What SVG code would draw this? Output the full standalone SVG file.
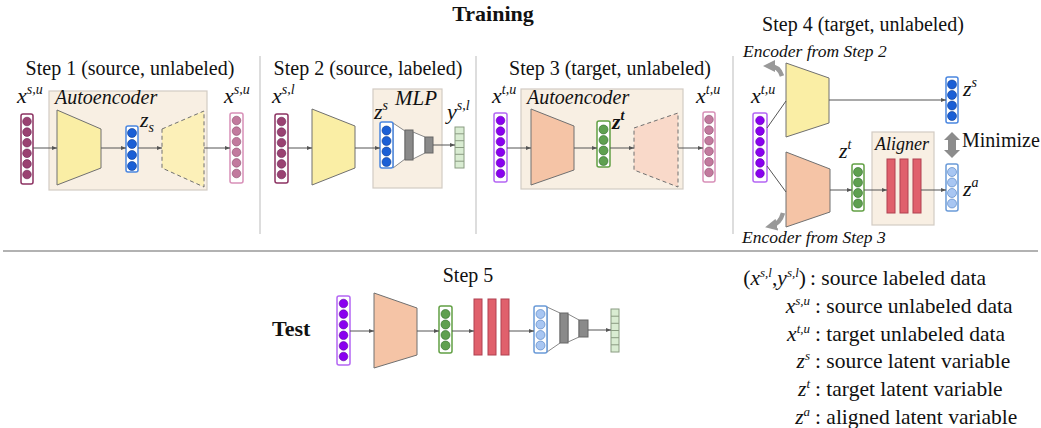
<svg xmlns="http://www.w3.org/2000/svg" width="1041" height="428" viewBox="0 0 1041 428">
<defs>
<marker id="ah" viewBox="0 0 10 10" refX="10" refY="5" markerWidth="5" markerHeight="5" orient="auto" markerUnits="userSpaceOnUse"><path d="M0,1 L10,5 L0,9 z" fill="#555"/></marker>
<marker id="big" viewBox="0 0 10 10" refX="5" refY="5" markerWidth="12" markerHeight="12" orient="auto" markerUnits="userSpaceOnUse"><path d="M0,0 L10,5 L0,10 z" fill="#999"/></marker>
</defs>
<style>
.t{font-family:"Liberation Serif","Times New Roman",serif;fill:#111}
.title{font-size:20px}
.it{font-style:italic}
.m{font-family:"Liberation Serif","Times New Roman",serif;font-style:italic;font-size:22px;fill:#111}
.sup{font-size:14px}
.box{fill:#f8efe3;stroke:#d2cbc3;stroke-width:1.2}
.sep{stroke:#bbb;stroke-width:1}
.enc-y{fill:#faeea5;stroke:#707070;stroke-width:1}
.dec-y{fill:#fcf0b8;stroke:#707070;stroke-width:1;stroke-dasharray:4 3}
.enc-p{fill:#f5c4a6;stroke:#707070;stroke-width:1}
.dec-p{fill:#f9d9c9;stroke:#707070;stroke-width:1;stroke-dasharray:4 3}
.col{fill:#fff;stroke-width:1.5}
.c-mar rect{stroke:#8c3262}.c-mar circle{fill:#9a4272;stroke:#6a2050;stroke-width:.6}
.c-pink rect{stroke:#d890b8}.c-pink circle{fill:#c27a9e;stroke:#8a4a6a;stroke-width:.6}
.c-blue rect{stroke:#4a86e0}.c-blue circle{fill:#1a5fd6;stroke:#0a3a90;stroke-width:.6}
.c-pur rect{stroke:#b466f4}.c-pur circle{fill:#8a00f0;stroke:#5a00a0;stroke-width:.6}
.c-grn rect{stroke:#62a044}.c-grn circle{fill:#5fa050;stroke:#2f6a28;stroke-width:.6}
.c-lb rect{stroke:#6a9ad8}.c-lb circle{fill:#a8c6f2;stroke:#4a7cc0;stroke-width:.6}
.bar{fill:#e0606c;stroke:#b04050;stroke-width:1}
.gb{fill:#8a8a8a;stroke:#666;stroke-width:1}
.fun{fill:#fff;stroke:#888;stroke-width:1}
.ycol rect{fill:#d9ecd2;stroke:#8a9c82;stroke-width:1}
.ycol line{stroke:#8a9c82;stroke-width:1}
.ar{stroke:#555;stroke-width:1;fill:none;marker-end:url(#ah)}
.ln{stroke:#555;stroke-width:1;fill:none}
.lg{font-size:21.5px}
</style>
<rect width="1041" height="428" fill="#fff"/>

<text class="t" x="493" y="21" text-anchor="middle" font-size="22" font-weight="bold">Training</text>
<text class="t" x="272" y="336" font-size="22" font-weight="bold">Test</text>

<line class="sep" x1="260" y1="56" x2="260" y2="234"/>
<line class="sep" x1="476" y1="56" x2="476" y2="234"/>
<line class="sep" x1="733" y1="56" x2="733" y2="234"/>
<line x1="3" y1="251" x2="1038" y2="251" stroke="#999" stroke-width="1.5"/>

<!-- Step 1 -->
<g id="step1">
<text class="t title" x="130" y="75" text-anchor="middle">Step 1 (source, unlabeled)</text>
<rect class="box" x="49" y="91" width="158" height="99"/>
<text class="t it" x="55" y="104" font-size="20">Autoencoder</text>
</g>
<g id="s1-input" class="c-mar">
<text class="m" x="17" y="103">x<tspan class="sup" dy="-9">s,u</tspan></text>
<rect class="col" x="21" y="114" width="12" height="70" rx="2"/>
<circle cx="27" cy="121.5" r="4.3"/><circle cx="27" cy="132.1" r="4.3"/><circle cx="27" cy="142.7" r="4.3"/><circle cx="27" cy="153.3" r="4.3"/><circle cx="27" cy="163.9" r="4.3"/><circle cx="27" cy="174.5" r="4.3"/>
</g>
<g id="s1-encoder"><path class="enc-y" d="M57,110 L101,129 L101,168 L57,185 Z"/></g>
<g id="s1-z" class="c-blue">
<rect class="col" x="126" y="126" width="12" height="46" rx="2"/>
<circle cx="132" cy="133" r="4.5"/><circle cx="132" cy="144" r="4.5"/><circle cx="132" cy="155" r="4.5"/><circle cx="132" cy="166" r="4.5"/>
<text class="m" x="140" y="127">z<tspan class="sup" dy="5">s</tspan></text>
</g>
<g id="s1-decoder"><path class="dec-y" d="M162,129 L204,111 L204,187 L162,168 Z"/></g>
<g id="s1-output" class="c-pink">
<text class="m" x="224" y="103">x<tspan class="sup" dy="-9">s,u</tspan></text>
<rect class="col" x="230" y="113" width="13" height="70" rx="2"/>
<circle cx="236.5" cy="120.5" r="4.3"/><circle cx="236.5" cy="131.1" r="4.3"/><circle cx="236.5" cy="141.7" r="4.3"/><circle cx="236.5" cy="152.3" r="4.3"/><circle cx="236.5" cy="162.9" r="4.3"/><circle cx="236.5" cy="173.5" r="4.3"/>
</g>

<!-- Step 2 -->
<g id="step2">
<text class="t title" x="368" y="75" text-anchor="middle">Step 2 (source, labeled)</text>
<rect class="box" x="373" y="89" width="69" height="99"/>
<text class="t it" x="395" y="105" font-size="21">MLP</text>
</g>
<g id="s2-input" class="c-mar">
<text class="m" x="272" y="103">x<tspan class="sup" dy="-9">s,l</tspan></text>
<rect class="col" x="275" y="114" width="13" height="69" rx="2"/>
<circle cx="281.5" cy="121.5" r="4.3"/><circle cx="281.5" cy="132.1" r="4.3"/><circle cx="281.5" cy="142.7" r="4.3"/><circle cx="281.5" cy="153.3" r="4.3"/><circle cx="281.5" cy="163.9" r="4.3"/><circle cx="281.5" cy="174.5" r="4.3"/>
</g>
<g id="s2-encoder"><path class="enc-y" d="M312,109 L355,126 L355,168 L312,185 Z"/></g>
<g id="s2-mlp">
<path class="fun" d="M393,123 L405,131 L405,159 L393,168 Z"/>
<path class="fun" d="M413,132 L425,137 L425,153 L413,159 Z"/>
<rect class="gb" x="405" y="130" width="8" height="30"/>
<rect class="gb" x="425" y="137" width="8" height="16"/>
</g>
<g id="s2-z" class="c-blue">
<text class="m" x="374" y="119">z<tspan class="sup" dy="-9">s</tspan></text>
<rect class="col" x="380" y="122" width="13" height="46" rx="2"/>
<circle cx="386.5" cy="130.5" r="4.5"/><circle cx="386.5" cy="141" r="4.5"/><circle cx="386.5" cy="151.5" r="4.5"/><circle cx="386.5" cy="162" r="4.5"/>
</g>
<g id="s2-y" class="ycol">
<text class="m" x="447" y="119">y<tspan class="sup" dy="-9">s,l</tspan></text>
<rect x="455" y="127" width="9" height="41"/>
<line x1="455" y1="133.8" x2="464" y2="133.8"/><line x1="455" y1="140.7" x2="464" y2="140.7"/><line x1="455" y1="147.5" x2="464" y2="147.5"/><line x1="455" y1="154.3" x2="464" y2="154.3"/><line x1="455" y1="161.2" x2="464" y2="161.2"/>
</g>

<!-- Step 3 -->
<g id="step3">
<text class="t title" x="610" y="75" text-anchor="middle">Step 3 (target, unlabeled)</text>
<rect class="box" x="521" y="89" width="162" height="100"/>
<text class="t it" x="527" y="104" font-size="20">Autoencoder</text>
</g>
<g id="s3-input" class="c-pur">
<text class="m" x="492" y="103">x<tspan class="sup" dy="-9">t,u</tspan></text>
<rect class="col" x="494" y="113" width="13" height="69" rx="2"/>
<circle cx="500.5" cy="120.5" r="4.3"/><circle cx="500.5" cy="131.1" r="4.3"/><circle cx="500.5" cy="141.7" r="4.3"/><circle cx="500.5" cy="152.3" r="4.3"/><circle cx="500.5" cy="162.9" r="4.3"/><circle cx="500.5" cy="173.5" r="4.3"/>
</g>
<g id="s3-encoder"><path class="enc-p" d="M531,109 L574,126 L574,170 L531,185 Z"/></g>
<g id="s3-z" class="c-grn">
<rect class="col" x="597" y="121" width="13" height="46" rx="2"/>
<circle cx="603.5" cy="129.5" r="4.5"/><circle cx="603.5" cy="140" r="4.5"/><circle cx="603.5" cy="150.5" r="4.5"/><circle cx="603.5" cy="161" r="4.5"/>
<text class="m" x="612" y="129" font-weight="bold">z<tspan class="sup" dy="-9">t</tspan></text>
</g>
<g id="s3-decoder"><path class="dec-p" d="M634,128 L678,113 L678,187 L634,170 Z"/></g>
<g id="s3-output" class="c-pink">
<text class="m" x="696" y="103">x<tspan class="sup" dy="-9">t,u</tspan></text>
<rect class="col" x="703" y="112" width="12" height="70" rx="2"/>
<circle cx="709" cy="119.5" r="4.3"/><circle cx="709" cy="130.1" r="4.3"/><circle cx="709" cy="140.7" r="4.3"/><circle cx="709" cy="151.3" r="4.3"/><circle cx="709" cy="161.9" r="4.3"/><circle cx="709" cy="172.5" r="4.3"/>
</g>

<!-- Step 4 -->
<g id="step4">
<text class="t title" x="863" y="31" text-anchor="middle">Step 4 (target, unlabeled)</text>
<text class="t it" x="743" y="57" font-size="17.5">Encoder from Step 2</text>
<text class="t it" x="742" y="243" font-size="17.5">Encoder from Step 3</text>
<path d="M782,76 Q779,66 769,66" stroke="#999" stroke-width="4.5" fill="none" marker-end="url(#big)"/>
<path d="M783,213 Q780,224 771,226" stroke="#999" stroke-width="4.5" fill="none" marker-end="url(#big)"/>
</g>
<g id="s4-input" class="c-pur">
<text class="m" x="751" y="103">x<tspan class="sup" dy="-9">t,u</tspan></text>
<rect class="col" x="753" y="113" width="14" height="69" rx="2"/>
<circle cx="760" cy="120.5" r="4.3"/><circle cx="760" cy="131.1" r="4.3"/><circle cx="760" cy="141.7" r="4.3"/><circle cx="760" cy="152.3" r="4.3"/><circle cx="760" cy="162.9" r="4.3"/><circle cx="760" cy="173.5" r="4.3"/>
</g>
<g id="s4-encoder-src"><path class="enc-y" d="M786,63 L829,78 L829,123 L786,137 Z"/></g>
<g id="s4-encoder-tgt"><path class="enc-p" d="M786,152 L830,169 L830,212 L786,227 Z"/></g>
<g id="s4-zs" class="c-blue">
<rect class="col" x="946" y="77" width="12" height="46" rx="2"/>
<circle cx="952" cy="84.5" r="4.5"/><circle cx="952" cy="95" r="4.5"/><circle cx="952" cy="105.5" r="4.5"/><circle cx="952" cy="116" r="4.5"/>
<text class="m" x="963" y="96">z<tspan class="sup" dy="-9">s</tspan></text>
</g>
<g id="s4-zt" class="c-grn">
<text class="m" x="839" y="158">z<tspan class="sup" dy="-9">t</tspan></text>
<rect class="col" x="852" y="164" width="12" height="47" rx="2"/>
<circle cx="858" cy="172" r="4.5"/><circle cx="858" cy="182.5" r="4.5"/><circle cx="858" cy="193" r="4.5"/><circle cx="858" cy="203.5" r="4.5"/>
</g>
<g id="s4-aligner">
<rect class="box" x="872" y="132" width="62" height="93"/>
<text class="t it" x="875" y="150" font-size="18">Aligner</text>
<rect class="bar" x="887" y="159" width="8" height="54"/>
<rect class="bar" x="900" y="159" width="8" height="54"/>
<rect class="bar" x="913" y="159" width="8" height="54"/>
</g>
<g id="s4-za" class="c-lb">
<rect class="col" x="946" y="164" width="12" height="47" rx="2"/>
<circle cx="952" cy="172" r="4.5"/><circle cx="952" cy="182.5" r="4.5"/><circle cx="952" cy="193" r="4.5"/><circle cx="952" cy="203.5" r="4.5"/>
<text class="m" x="963" y="196">z<tspan class="sup" dy="-9">a</tspan></text>
</g>
<g id="minimize">
<polygon points="952,132 960,140 956,140 956,150 960,150 952,158 944,150 948,150 948,140 944,140" fill="#8c8c8c"/>
<text class="t" x="962" y="147" font-size="20">Minimize</text>
</g>

<!-- Step 5 -->
<g id="step5">
<text class="t title" x="468" y="282" text-anchor="middle">Step 5</text>
</g>
<g id="t-input" class="c-pur">
<rect class="col" x="337" y="296" width="13" height="69" rx="2"/>
<circle cx="343.5" cy="303.5" r="4.3"/><circle cx="343.5" cy="314.1" r="4.3"/><circle cx="343.5" cy="324.7" r="4.3"/><circle cx="343.5" cy="335.3" r="4.3"/><circle cx="343.5" cy="345.9" r="4.3"/><circle cx="343.5" cy="356.5" r="4.3"/>
</g>
<g id="t-encoder"><path class="enc-p" d="M374,293 L417,308 L417,355 L374,368 Z"/></g>
<g id="t-z" class="c-grn">
<rect class="col" x="439" y="306" width="13" height="47" rx="2"/>
<circle cx="445.5" cy="314" r="4.5"/><circle cx="445.5" cy="324.5" r="4.5"/><circle cx="445.5" cy="335" r="4.5"/><circle cx="445.5" cy="345.5" r="4.5"/>
</g>
<g id="t-aligner">
<rect class="bar" x="474" y="299" width="8" height="56"/>
<rect class="bar" x="488" y="299" width="8" height="56"/>
<rect class="bar" x="501" y="299" width="8" height="56"/>
</g>
<g id="t-mlp">
<path class="fun" d="M547,307 L560,313 L560,343 L547,352 Z"/>
<path class="fun" d="M568,314 L579,320 L579,337 L568,342 Z"/>
<rect class="gb" x="560" y="313" width="8" height="30"/>
<rect class="gb" x="579" y="320" width="9" height="17"/>
</g>
<g id="t-za" class="c-lb">
<rect class="col" x="534" y="306" width="13" height="47" rx="2"/>
<circle cx="540.5" cy="314" r="4.5"/><circle cx="540.5" cy="324.5" r="4.5"/><circle cx="540.5" cy="335" r="4.5"/><circle cx="540.5" cy="345.5" r="4.5"/>
</g>
<g id="t-y" class="ycol">
<rect x="611" y="309" width="8" height="43"/>
<line x1="611" y1="316.2" x2="619" y2="316.2"/><line x1="611" y1="323.3" x2="619" y2="323.3"/><line x1="611" y1="330.5" x2="619" y2="330.5"/><line x1="611" y1="337.7" x2="619" y2="337.7"/><line x1="611" y1="344.8" x2="619" y2="344.8"/>
</g>

<!-- Connectors -->
<g id="connectors">
<line class="ar" x1="33" y1="148" x2="57" y2="148"/>
<line class="ar" x1="101" y1="148" x2="126" y2="148"/>
<line class="ar" x1="138" y1="148" x2="162" y2="148"/>
<line class="ar" x1="204" y1="148" x2="230" y2="148"/>
<line class="ar" x1="288" y1="148" x2="312" y2="148"/>
<line class="ar" x1="355" y1="148" x2="380" y2="148"/>
<line class="ar" x1="433" y1="145" x2="455" y2="145"/>
<line class="ar" x1="507" y1="148" x2="531" y2="148"/>
<line class="ar" x1="574" y1="148" x2="597" y2="148"/>
<line class="ar" x1="610" y1="148" x2="634" y2="148"/>
<line class="ar" x1="678" y1="148" x2="703" y2="148"/>
<line class="ln" x1="767" y1="128" x2="786" y2="101"/>
<line class="ln" x1="767" y1="166" x2="786" y2="192"/>
<line class="ar" x1="829" y1="100" x2="946" y2="100"/>
<line class="ar" x1="830" y1="190" x2="852" y2="190"/>
<line class="ar" x1="864" y1="190" x2="887" y2="190"/>
<line class="ar" x1="921" y1="190" x2="946" y2="190"/>
<line class="ar" x1="350" y1="331" x2="374" y2="331"/>
<line class="ar" x1="417" y1="331" x2="439" y2="331"/>
<line class="ar" x1="452" y1="331" x2="474" y2="331"/>
<line class="ar" x1="509" y1="331" x2="534" y2="331"/>
<line class="ar" x1="588" y1="330" x2="611" y2="330"/>
</g>

<!-- Legend -->
<g id="legend">
<text class="t lg" x="806" y="285" text-anchor="end">(<tspan class="it">x</tspan><tspan class="it" font-size="13" dy="-8">s,l</tspan><tspan dy="8">,</tspan><tspan class="it">y</tspan><tspan class="it" font-size="13" dy="-8">s,l</tspan><tspan dy="8">)</tspan></text>
<text class="t lg" x="810" y="285">: source labeled data</text>
<text class="t lg it" x="810" y="313" text-anchor="end">x<tspan font-size="13" dy="-8">s,u</tspan></text>
<text class="t lg" x="815" y="313">: source unlabeled data</text>
<text class="t lg it" x="810" y="341" text-anchor="end">x<tspan font-size="13" dy="-8">t,u</tspan></text>
<text class="t lg" x="815" y="341">: target unlabeled data</text>
<text class="t lg it" x="810" y="368" text-anchor="end">z<tspan font-size="13" dy="-8">s</tspan></text>
<text class="t lg" x="815" y="368">: source latent variable</text>
<text class="t lg it" x="810" y="396" text-anchor="end">z<tspan font-size="13" dy="-8">t</tspan></text>
<text class="t lg" x="815" y="396">: target latent variable</text>
<text class="t lg it" x="810" y="424" text-anchor="end">z<tspan font-size="13" dy="-8">a</tspan></text>
<text class="t lg" x="815" y="424">: aligned latent variable</text>
</g>
</svg>
